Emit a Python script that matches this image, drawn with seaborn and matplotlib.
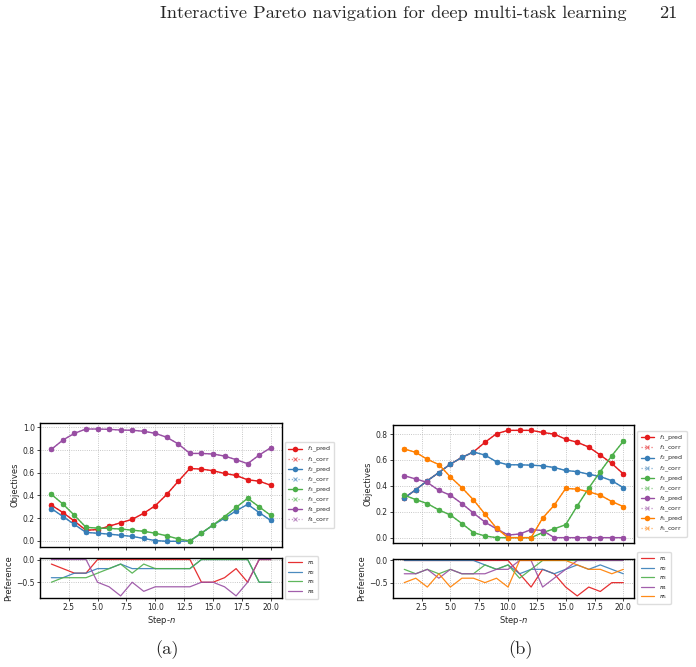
import matplotlib
matplotlib.use("Agg")
import matplotlib.pyplot as plt
import seaborn as sns

# steps on the x axis
steps = [1, 2, 3, 4, 5, 6, 7, 8, 9, 10, 11, 12, 13, 14, 15, 16, 17, 18, 19, 20]

# (a) objectives
a_f1 = [0.315, 0.25, 0.174, 0.094, 0.10, 0.13, 0.16, 0.19, 0.244, 0.31,
        0.41, 0.526, 0.638, 0.632, 0.618, 0.594, 0.576, 0.538, 0.526, 0.49]
a_f2 = [0.285, 0.215, 0.145, 0.075, 0.068, 0.06, 0.05, 0.04, 0.022, 0.003,
        -0.003, -0.003, 0.0, 0.068, 0.14, 0.20, 0.265, 0.322, 0.25, 0.18]
a_f3 = [0.41, 0.325, 0.225, 0.12, 0.113, 0.11, 0.105, 0.095, 0.085, 0.068,
        0.045, 0.018, 0.0, 0.07, 0.14, 0.215, 0.295, 0.375, 0.30, 0.225]
a_f4 = [0.806, 0.888, 0.947, 0.985, 0.985, 0.982, 0.976, 0.974, 0.965, 0.947,
        0.912, 0.853, 0.77, 0.77, 0.765, 0.747, 0.715, 0.68, 0.756, 0.82]

# (a) preferences
a_p1 = [-0.1, -0.2, -0.3, -0.3, 0, 0, 0, 0, 0, 0, 0, 0, 0, -0.5, -0.5, -0.4, -0.2, -0.5, 0, 0]
a_p2 = [-0.4, -0.4, -0.3, -0.3, -0.2, -0.2, -0.1, -0.2, -0.2, -0.2, -0.2, -0.2, -0.2, 0, 0, 0, 0, 0, -0.5, -0.5]
a_p3 = [-0.5, -0.4, -0.4, -0.4, -0.3, -0.2, -0.1, -0.3, -0.1, -0.2, -0.2, -0.2, -0.2, 0, 0, 0, 0, 0, -0.5, -0.5]
a_p4 = [0, 0, 0, 0, -0.5, -0.6, -0.8, -0.5, -0.7, -0.6, -0.6, -0.6, -0.6, -0.5, -0.5, -0.6, -0.8, -0.5, 0, 0]

# (b) objectives
b_f1 = [0.307, 0.37, 0.44, 0.503, 0.568, 0.62, 0.662, 0.737, 0.803, 0.829,
        0.829, 0.829, 0.813, 0.80, 0.761, 0.737, 0.70, 0.638, 0.573, 0.492]
b_f2 = [0.307, 0.37, 0.44, 0.503, 0.568, 0.62, 0.662, 0.638, 0.586, 0.563,
        0.563, 0.56, 0.555, 0.542, 0.519, 0.51, 0.49, 0.472, 0.44, 0.386]
b_f3 = [0.328, 0.294, 0.263, 0.214, 0.175, 0.109, 0.039, 0.013, 0.0, 0.0,
        0.0, 0.0, 0.039, 0.068, 0.10, 0.245, 0.383, 0.51, 0.633, 0.745]
b_f4 = [0.479, 0.453, 0.427, 0.365, 0.328, 0.263, 0.19, 0.12, 0.068, 0.02,
        0.028, 0.062, 0.055, 0.0, 0.0, 0.0, 0.0, 0.0, 0.0, 0.0]
b_f5 = [0.685, 0.659, 0.605, 0.565, 0.469, 0.386, 0.292, 0.182, 0.073, 0.0,
        0.0, 0.0, 0.151, 0.25, 0.38, 0.375, 0.354, 0.328, 0.279, 0.24]

# (b) preferences
b_p1 = [0, 0, 0, 0, 0, 0, 0, 0, 0, 0, -0.3, -0.6, -0.2, -0.3, -0.6, -0.8, -0.6, -0.7, -0.5, -0.5]
b_p2 = [0, 0, 0, 0, 0, 0, 0, -0.1, -0.2, -0.1, -0.3, -0.2, -0.2, -0.3, -0.2, -0.1, -0.2, -0.1, -0.2, -0.3]
b_p3 = [-0.2, -0.3, -0.2, -0.3, -0.2, -0.3, -0.3, -0.1, -0.2, -0.1, -0.4, -0.2, 0, 0, 0, 0, 0, 0, 0, 0]
b_p4 = [-0.3, -0.3, -0.2, -0.4, -0.2, -0.3, -0.3, -0.3, -0.2, -0.2, 0, 0, -0.6, -0.4, -0.2, 0, 0, 0, 0, 0]
b_p5 = [-0.5, -0.4, -0.6, -0.3, -0.6, -0.4, -0.4, -0.5, -0.4, -0.6, 0, 0, 0, 0, 0, -0.1, -0.2, -0.2, -0.3, -0.2]

colors = sns.color_palette("Set1", 5)

sns.set_style("ticks")
plt.rcParams["font.family"] = ["DejaVu Sans"]
plt.rcParams["axes.linewidth"] = 1.0

W, H = 696, 667
fig = plt.figure(figsize=(W / 100, H / 100), dpi=100)


def box(left, top, right, bottom):
    return [left / W, 1 - bottom / H, (right - left) / W, (bottom - top) / H]


def style_axes(ax):
    ax.grid(True, linestyle=":", color="#b5b5b5", linewidth=0.6)
    ax.tick_params(labelsize=5.5, length=2.5, width=0.6, pad=1.5)
    for s in ax.spines.values():
        s.set_color("black")


def objectives(ax, series):
    for i, vals in enumerate(series):
        c = colors[i]
        sns.lineplot(x=steps, y=vals, ax=ax, color=c, marker="o", markersize=4,
                     markeredgewidth=0, linewidth=1.0, label=f"$f_{i+1}$_pred")
        sns.lineplot(x=steps, y=vals, ax=ax, color=c, marker="x", markersize=3.5,
                     markeredgewidth=0.8, markeredgecolor=c, linewidth=0.9,
                     linestyle=":", alpha=0.6, label=f"$f_{i+1}$_corr")
    style_axes(ax)
    ax.set_ylabel("Objectives", fontsize=6, labelpad=2)
    ax.set_xlabel("")
    ax.set_xticks([2.5, 5, 7.5, 10, 12.5, 15, 17.5, 20])
    ax.tick_params(labelbottom=False)
    ax.legend(loc="center left", bbox_to_anchor=(1.0, 0.5), fontsize=4.5,
              handlelength=2.2, labelspacing=0.12, borderpad=0.5, framealpha=1,
              edgecolor="#dddddd", fancybox=True)


def preferences(ax, series):
    for i, vals in enumerate(series):
        sns.lineplot(x=steps, y=vals, ax=ax, color=colors[i], linewidth=0.9,
                     alpha=0.9, label=f"$\\pi_{i+1}$")
    style_axes(ax)
    ax.set_ylabel("Preference", fontsize=6, labelpad=2)
    ax.set_xlabel("Step-$n$", fontsize=6, labelpad=1)
    ax.set_xticks([2.5, 5, 7.5, 10, 12.5, 15, 17.5, 20])
    ax.set_yticks([0.0, -0.5])
    ax.legend(loc="center left", bbox_to_anchor=(1.0, 0.5), fontsize=4.5,
              handlelength=2.2, labelspacing=0.25, borderpad=0.5, framealpha=1,
              edgecolor="#dddddd", fancybox=True)


axA = fig.add_axes(box(40.4, 423.4, 281.7, 546.9))
prefA = fig.add_axes(box(40.4, 557.7, 281.7, 597.7))
axB = fig.add_axes(box(393.3, 425, 634.3, 543))
prefB = fig.add_axes(box(393.3, 558.7, 634.3, 597.7))

objectives(axA, [a_f1, a_f2, a_f3, a_f4])
preferences(prefA, [a_p1, a_p2, a_p3, a_p4])
objectives(axB, [b_f1, b_f2, b_f3, b_f4, b_f5])
preferences(prefB, [b_p1, b_p2, b_p3, b_p4, b_p5])

# page header and sub-captions
fig.text(160 / W, 1 - 13 / H, "Interactive Pareto navigation for deep multi-task learning",
         family="cmr10", fontsize=13.25, ha="left", va="center")
fig.text(677 / W, 1 - 13 / H, "21", family="cmr10", fontsize=13.25, ha="right", va="center")
fig.text(167 / W, 1 - 650 / H, "(a)", family="cmr10", fontsize=13.25, ha="center", va="center")
fig.text(521 / W, 1 - 650 / H, "(b)", family="cmr10", fontsize=13.25, ha="center", va="center")

fig.savefig("out.png", dpi=100)
